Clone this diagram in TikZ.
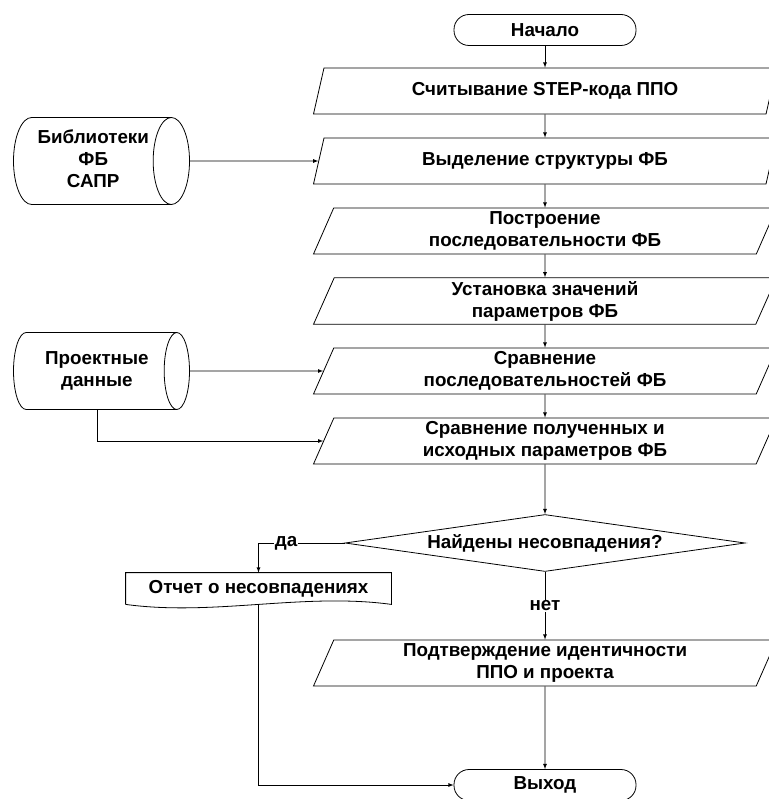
\documentclass[tikz,border=0pt]{standalone}
\usepackage{fontspec}
\setmainfont{Liberation Sans}
\usetikzlibrary{shapes.geometric,positioning}

\begin{document}
\begin{tikzpicture}[x=1pt,y=-1pt,>=latex,line width=0.8pt]
       \tikzstyle{base}=[draw, align=center, font=\fontsize{18.8}{22}\selectfont\bfseries]
       \tikzstyle{term}=[base, rounded corners=15pt, minimum width=182pt, minimum height=31pt]
       \tikzstyle{io}=[base, trapezium, trapezium left angle=66, trapezium right angle=114,
         trapezium stretches body, minimum width=463pt, minimum height=46pt]
       \tikzstyle{store}=[base, cylinder, aspect=0.5, inner xsep=0pt, minimum height=176pt, anchor=shape center]
       \tikzstyle{decide}=[base, diamond, aspect=7, inner sep=0pt, minimum width=400pt, minimum height=57pt]
       \tikzstyle{answer}=[fill=white, inner sep=1pt, font=\fontsize{18.8}{22}\selectfont\bfseries]
       \useasboundingbox (0,0) rectangle (768,799);
       % main column
       \node[term] (start) at (545,30) {Начало};
       \node[io] (p1) at (545,91) {Считывание STEP-кода ППО};
       \node[io] (p2) at (545,161) {Выделение структуры ФБ};
       \node[io] (p3) at (545,231) {Построение\\последовательности ФБ};
       \node[io] (p4) at (545,301) {Установка значений\\параметров ФБ};
       \node[io] (p5) at (545,371) {Сравнение\\последовательностей ФБ};
       \node[io] (p6) at (545,441) {Сравнение полученных и\\исходных параметров ФБ};
       \node[decide] (dec) at (545,543) {Найдены несовпадения?};
       \node[io] (p7) at (545,663) {Подтверждение идентичности\\ППО и проекта};
       \node[term] (stop) at (545,785) {Выход};
       % side nodes (text pushed right to sit in the middle of the drum)
       \node[store, minimum width=87pt] (lib) at (101.5,161)
         {\hspace*{9pt}\begin{tabular}{@{}c@{}}Библиотеки\\ФБ\\САПР\end{tabular}};
       \node[store, minimum width=77pt] (dat) at (101.5,371)
         {\hspace*{9pt}\begin{tabular}{@{}c@{}}Проектные\\данные\end{tabular}};
       \node[base, draw=none, minimum width=265pt, minimum height=31pt] (rep) at (258.5,588.5) {Отчет о несовпадениях};
       \draw (rep.south west) -- (rep.north west) -- (rep.north east) -- (rep.south east)
         .. controls +(-88,-12) and +(88,12) .. (rep.south west);
       % connectors
       \draw[->] (start) -- (p1);
       \foreach \a/\b in {p1/p2,p2/p3,p3/p4,p4/p5,p5/p6,p6/dec}
         \draw[->] (\a) -- (\b);
       \draw[->] (lib) -- (p2);
       \draw[->] (dat) -- (p5);
       \draw[->] ([xshift=-4.5pt]dat.shape center |- dat.south) |- (p6);
       \draw[->] (dec.west) -- node[answer, pos=0.68] {да} (dec.west -| rep.north) -- (rep.north);
       \draw[->] (dec) -- node[answer] {нет} (p7);
       \draw[->] (p7) -- (stop);
       \draw[->] (rep.south) |- (stop);
\end{tikzpicture}
\end{document}
